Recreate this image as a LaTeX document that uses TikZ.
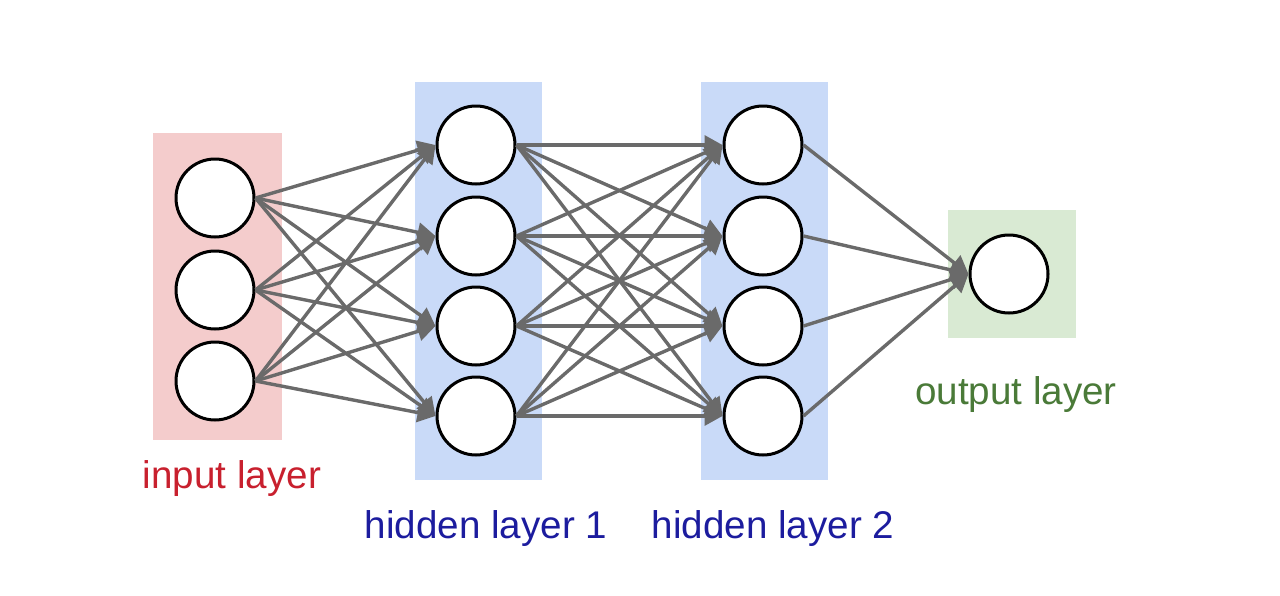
\documentclass[tikz,border=0pt]{standalone}
\usepackage{fontspec}
\setmainfont{Liberation Sans}
\usepackage{tikz}
\usetikzlibrary{arrows.meta,positioning}

\definecolor{inpink}{HTML}{F4CCCC}
\definecolor{hidblue}{HTML}{C9DAF8}
\definecolor{outgreen}{HTML}{D9EAD3}
\definecolor{inred}{HTML}{C8202E}
\definecolor{hidtext}{HTML}{1C1C9E}
\definecolor{outtext}{HTML}{4A7A38}
\definecolor{wirecol}{HTML}{6A6A6A}

\begin{document}
\begin{tikzpicture}[x=0.5pt,y=-0.5pt,>={Triangle[length=9pt,width=9.5pt]}]
	    \tikzstyle{neuron}=[draw=black,line width=1.5pt,circle,fill=white,inner sep=0pt,minimum size=39pt]
	    \tikzstyle{wire}=[->,draw=wirecol,fill=wirecol,line width=1.7pt]
	    \tikzstyle{layername}=[anchor=base,font=\fontsize{19.3}{23}\selectfont,inner sep=0pt]

	    \useasboundingbox (0,0) rectangle (1280,595);

	    % layer boxes
	    \fill[inpink] (153,133) rectangle (282,440);
	    \fill[hidblue] (415,82) rectangle (542,480);
	    \fill[hidblue] (701,82) rectangle (828,480);
	    \fill[outgreen] (948,210) rectangle (1076,338);

	    % input layer
	    \node[neuron] (i1) at (215,198) {};
	    \node[neuron] (i2) at (215,290) {};
	    \node[neuron] (i3) at (215,381) {};

	    % hidden layer 1
	    \node[neuron] (a1) at (476,145) {};
	    \node[neuron] (a2) at (476,236) {};
	    \node[neuron] (a3) at (476,326) {};
	    \node[neuron] (a4) at (476,416) {};

	    % hidden layer 2
	    \node[neuron] (b1) at (763,145) {};
	    \node[neuron] (b2) at (763,236) {};
	    \node[neuron] (b3) at (763,326) {};
	    \node[neuron] (b4) at (763,416) {};

	    % output layer
	    \node[neuron] (o1) at (1009,274) {};

	    \path (i1.east) edge[wire] (a1.west) edge[wire] (a2.west) edge[wire] (a3.west) edge[wire] (a4.west);
	    \path (i2.east) edge[wire] (a1.west) edge[wire] (a2.west) edge[wire] (a3.west) edge[wire] (a4.west);
	    \path (i3.east) edge[wire] (a1.west) edge[wire] (a2.west) edge[wire] (a3.west) edge[wire] (a4.west);

	    \path (a1.east) edge[wire] (b1.west) edge[wire] (b2.west) edge[wire] (b3.west) edge[wire] (b4.west);
	    \path (a2.east) edge[wire] (b1.west) edge[wire] (b2.west) edge[wire] (b3.west) edge[wire] (b4.west);
	    \path (a3.east) edge[wire] (b1.west) edge[wire] (b2.west) edge[wire] (b3.west) edge[wire] (b4.west);
	    \path (a4.east) edge[wire] (b1.west) edge[wire] (b2.west) edge[wire] (b3.west) edge[wire] (b4.west);

	    \path (b1.east) edge[wire] (o1.west);
	    \path (b2.east) edge[wire] (o1.west);
	    \path (b3.east) edge[wire] (o1.west);
	    \path (b4.east) edge[wire] (o1.west);

	    \node[layername,text=inred] (inlabel) at (232,488) {input layer};
	    \node[layername,text=hidtext] (hid1label) at (486,538) {hidden layer 1};
	    \node[layername,text=hidtext] (hid2label) at (773,538) {hidden layer 2};
	    \node[layername,text=outtext] (outlabel) at (1016,404) {output layer};

    \end{tikzpicture}
\end{document}
